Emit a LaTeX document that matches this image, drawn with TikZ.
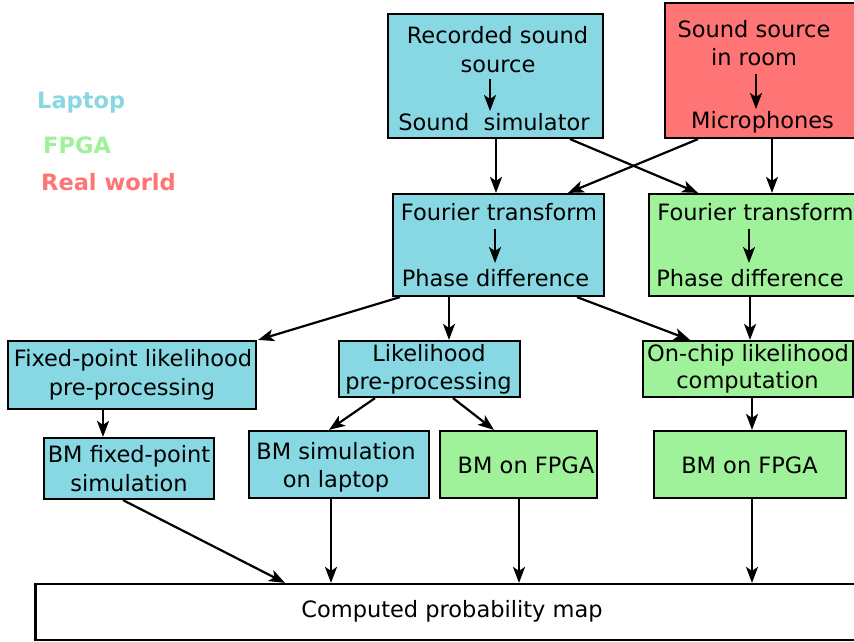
\documentclass[tikz,border=0pt]{standalone}
\usepackage{fontspec}
\setmainfont{DejaVu Sans}
\usetikzlibrary{arrows.meta}

\definecolor{laptop}{RGB}{135,216,227}
\definecolor{fpga}{RGB}{160,242,154}
\definecolor{realw}{RGB}{255,116,116}

\tikzset{
  box/.style={draw=black, line width=2.2pt, rectangle, inner sep=0pt, fill=#1},
  txt/.style={inner sep=0pt, anchor=base, font=\fontsize{22.5}{27}\selectfont},
  legend/.style={inner sep=0pt, anchor=base west, font=\fontsize{22.5}{27}\selectfont\bfseries},
  arr/.style={line width=2.2pt, -{Stealth[length=16pt,width=12pt,inset=4pt]}},
}

\begin{document}
\begin{tikzpicture}[x=1pt,y=-1pt]
\clip (0,0) rectangle (854,641);
\fill[white] (0,0) rectangle (854,641);

% legend
\node[legend, text=laptop] (legL) at (37,108) {Laptop};
\node[legend, text=fpga]   (legF) at (43,153) {FPGA};
\node[legend, text=realw]  (legR) at (41,190) {Real world};

% sources
\node[box=laptop, minimum width=215, minimum height=124] (rec) at (495.5,76) {};
\node[txt] (recA) at (497.5,43) {Recorded sound};
\node[txt] (recB) at (498,72) {source};
\node[txt] (recC) at (494,130) {Sound\ \ simulator};
\draw[arr] ([xshift=-8pt,yshift=-7pt]recB.base) -- ([xshift=-4pt,yshift=19pt]recC.base);

\node[box=realw, minimum width=200, minimum height=135] (room) at (765,70.5) {};
\node[txt] (roomA) at (754,37) {Sound source};
\node[txt] (roomB) at (754,65) {in room};
\node[txt] (roomC) at (762.5,128) {Microphones};
\draw[arr] ([xshift=2pt,yshift=-9pt]roomB.base) -- ([xshift=-6.5pt,yshift=19pt]roomC.base);

% Fourier / phase stages
\node[box=laptop, minimum width=211, minimum height=102] (ftb) at (498.5,245) {};
\node[txt] (ftbA) at (499,220) {Fourier transform};
\node[txt] (ftbB) at (495.5,286) {Phase difference};
\draw[arr] ([xshift=-4pt,yshift=-9pt]ftbA.base) -- ([xshift=-0.5pt,yshift=23pt]ftbB.base);

\node[box=fpga, minimum width=211, minimum height=102] (ftg) at (754.5,245) {};
\node[txt] (ftgA) at (755.5,220) {Fourier transform};
\node[txt] (ftgB) at (750,286) {Phase difference};
\draw[arr] ([xshift=-6.5pt,yshift=-9pt]ftgA.base) -- ([xshift=-1pt,yshift=23pt]ftgB.base);

% likelihood stages
\node[box=laptop, minimum width=248, minimum height=68] (fix) at (132,375) {};
\node[txt] at (133,366) {Fixed-point likelihood};
\node[txt] at (132,395) {pre-processing};

\node[box=laptop, minimum width=181, minimum height=56] (lik) at (429.5,369) {};
\node[txt] at (429,361) {Likelihood};
\node[txt] at (428.5,389) {pre-processing};

\node[box=fpga, minimum width=210, minimum height=56] (chip) at (748,369) {};
\node[txt] at (748,361) {On-chip likelihood};
\node[txt] at (747.5,388) {computation};

% Boltzmann machine stages
\node[box=laptop, minimum width=170, minimum height=61] (bmfix) at (129,468.5) {};
\node[txt] at (129,462) {BM fixed-point};
\node[txt] at (129,491) {simulation};

\node[box=laptop, minimum width=180, minimum height=67] (bmsim) at (339,464.5) {};
\node[txt] at (336,459) {BM simulation};
\node[txt] at (336,487) {on laptop};

\node[box=fpga, minimum width=157, minimum height=67] (bmf1) at (518.5,464.5) {};
\node[txt] at (526,473) {BM on FPGA};

\node[box=fpga, minimum width=192, minimum height=67] (bmf2) at (750,464.5) {};
\node[txt] at (749.5,473) {BM on FPGA};

% result
\node[box=white, minimum width=835, minimum height=56] (map) at (453,612) {};
\node[txt] at (452,617) {Computed probability map};

% connectors
\draw[arr] ([xshift=0.5pt]rec.south) -- ([xshift=0.5pt]rec.south |- ftb.north);
\draw[arr] ([xshift=74.5pt]rec.south) -- ([xshift=-56.5pt]ftg.north);
\draw[arr] ([xshift=-67pt]room.south) -- ([xshift=69.5pt]ftb.north);
\draw[arr] ([xshift=7pt]room.south) -- ([xshift=7pt]room.south |- ftg.north);

\draw[arr] ([xshift=-98.5pt]ftb.south) -- ([xshift=1pt]fix.north east);
\draw[arr] ([xshift=-49.5pt]ftb.south) -- ([xshift=-49.5pt]ftb.south |- lik.north);
\draw[arr] ([xshift=78.5pt]ftb.south) -- ([xshift=-58pt]chip.north);
\draw[arr] ([xshift=-4.5pt]ftg.south) -- ([xshift=-4.5pt]ftg.south |- chip.north);

\draw[arr] ([xshift=-29pt]fix.south) -- ([xshift=-29pt]fix.south |- bmfix.north);
\draw[arr] ([xshift=-54.5pt]lik.south) -- ([xshift=-10pt]bmsim.north);
\draw[arr] ([xshift=23.5pt]lik.south) -- ([xshift=-24.5pt]bmf1.north);
\draw[arr] ([xshift=4pt]chip.south) -- ([xshift=4pt]chip.south |- bmf2.north);

\draw[arr] ([xshift=-6pt]bmfix.south) -- ([xshift=-168pt]map.north);
\draw[arr] ([xshift=-8pt]bmsim.south) -- ([xshift=-8pt]bmsim.south |- map.north);
\draw[arr] ([xshift=0.5pt]bmf1.south) -- ([xshift=0.5pt]bmf1.south |- map.north);
\draw[arr] ([xshift=2pt]bmf2.south) -- ([xshift=2pt]bmf2.south |- map.north);
\end{tikzpicture}
\end{document}
